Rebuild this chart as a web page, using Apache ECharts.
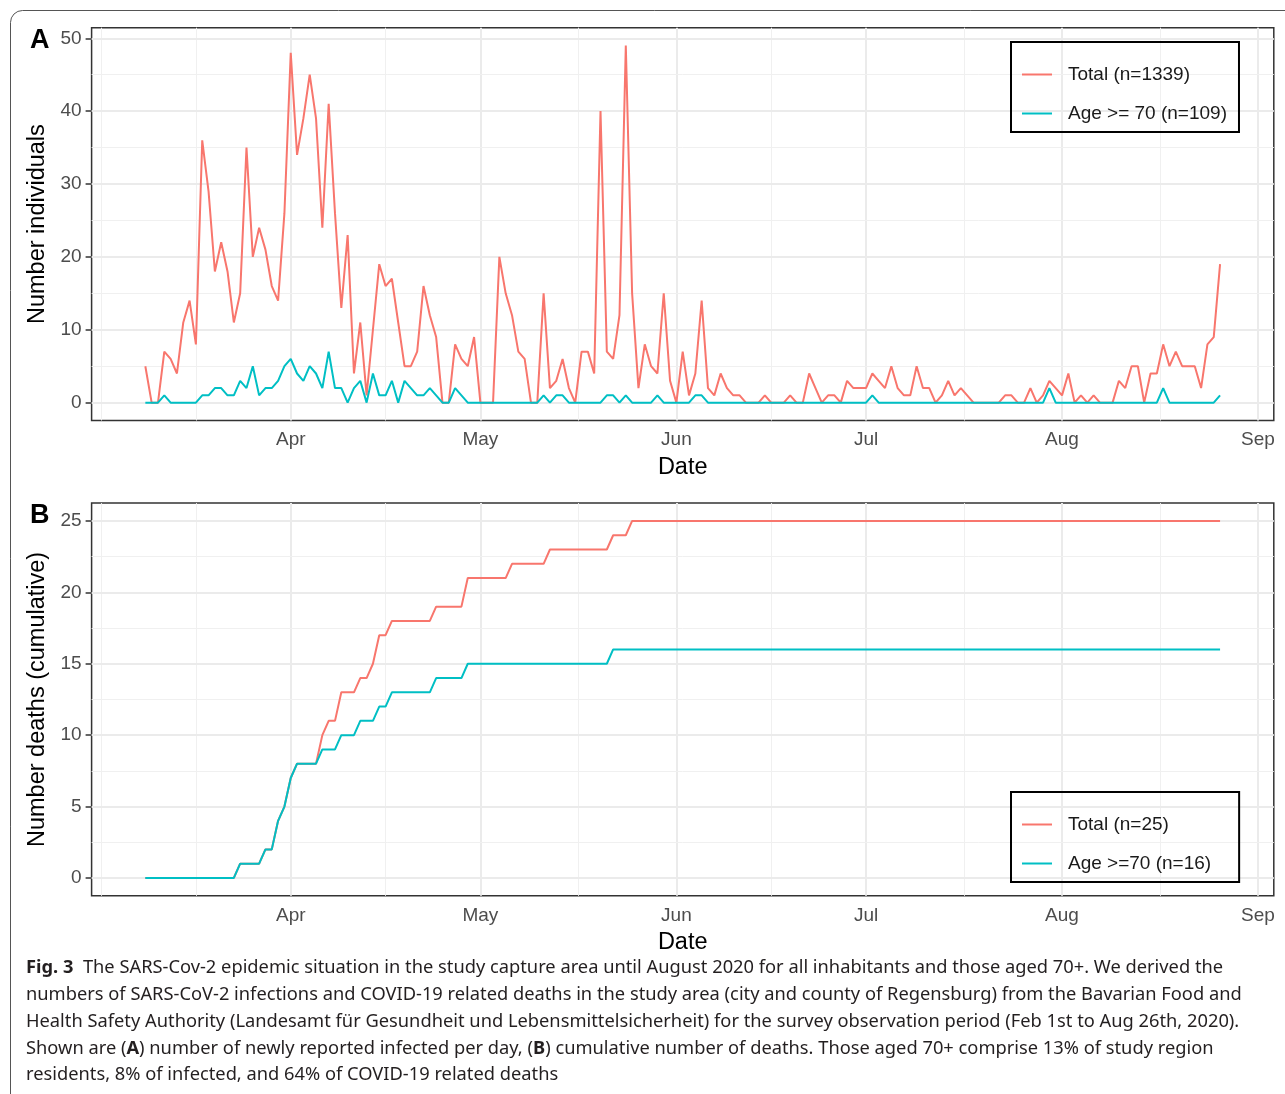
<!DOCTYPE html>
<html>
<head>
<meta charset="utf-8">
<script src="https://cdn.jsdelivr.net/npm/echarts@6/dist/echarts.min.js"></script>
<style>
html, body { margin: 0; padding: 0; background: #fff; }
#chart { width: 1285px; height: 1094px; }
</style>
</head>
<body>
<div id="chart"></div>
<script>
// daily values, first day = startDate
var startDate = [2020, 2, 9];

// A: newly reported infected per day
var newTotal = [
    // Mar 9 - 31
    5, 0, 0, 7, 6, 4, 11, 14, 8, 36, 29, 18, 22, 18, 11, 15, 35, 20, 24, 21, 16, 14, 26,
    // Apr
    48, 34, 39, 45, 39, 24, 41, 26, 13, 23, 4, 11, 1, 10, 19, 16, 17, 11, 5, 5, 7, 16, 12, 9, 0, 0, 8, 6, 5, 9,
    // May
    0, 0, 0, 20, 15, 12, 7, 6, 0, 0, 15, 2, 3, 6, 2, 0, 7, 7, 4, 40, 7, 6, 12, 49, 15, 2, 8, 5, 4, 15, 3,
    // Jun
    0, 7, 1, 4, 14, 2, 1, 4, 2, 1, 1, 0, 0, 0, 1, 0, 0, 0, 1, 0, 0, 4, 2, 0, 1, 1, 0, 3, 2, 2,
    // Jul
    2, 4, 3, 2, 5, 2, 1, 1, 5, 2, 2, 0, 1, 3, 1, 2, 1, 0, 0, 0, 0, 0, 1, 1, 0, 0, 2, 0, 1, 3, 2,
    // Aug 1 - 26
    1, 4, 0, 1, 0, 1, 0, 0, 0, 3, 2, 5, 5, 0, 4, 4, 8, 5, 7, 5, 5, 5, 2, 8, 9, 19
];
var newAge70 = [
    0, 0, 0, 1, 0, 0, 0, 0, 0, 1, 1, 2, 2, 1, 1, 3, 2, 5, 1, 2, 2, 3, 5,
    6, 4, 3, 5, 4, 2, 7, 2, 2, 0, 2, 3, 0, 4, 1, 1, 3, 0, 3, 2, 1, 1, 2, 1, 0, 0, 2, 1, 0, 0,
    0, 0, 0, 0, 0, 0, 0, 0, 0, 0, 1, 0, 1, 1, 0, 0, 0, 0, 0, 0, 1, 1, 0, 1, 0, 0, 0, 0, 1, 0, 0,
    0, 0, 0, 1, 1, 0, 0, 0, 0, 0, 0, 0, 0, 0, 0, 0, 0, 0, 0, 0, 0, 0, 0, 0, 0, 0, 0, 0, 0, 0,
    0, 1, 0, 0, 0, 0, 0, 0, 0, 0, 0, 0, 0, 0, 0, 0, 0, 0, 0, 0, 0, 0, 0, 0, 0, 0, 0, 0, 0, 2, 0,
    0, 0, 0, 0, 0, 0, 0, 0, 0, 0, 0, 0, 0, 0, 0, 0, 2, 0, 0, 0, 0, 0, 0, 0, 0, 1
];

// B: cumulative number of deaths
var deathsTotal = [
    0, 0, 0, 0, 0, 0, 0, 0, 0, 0, 0, 0, 0, 0, 0, 1, 1, 1, 1, 2, 2, 4, 5,
    7, 8, 8, 8, 8, 10, 11, 11, 13, 13, 13, 14, 14, 15, 17, 17, 18, 18, 18, 18, 18, 18, 18, 19, 19, 19, 19, 19, 21, 21,
    21, 21, 21, 21, 21, 22, 22, 22, 22, 22, 22, 23, 23, 23, 23, 23, 23, 23, 23, 23, 23, 24, 24, 24, 25, 25, 25, 25, 25, 25, 25,
    25, 25, 25, 25, 25, 25, 25, 25, 25, 25, 25, 25, 25, 25, 25, 25, 25, 25, 25, 25, 25, 25, 25, 25, 25, 25, 25, 25, 25, 25,
    25, 25, 25, 25, 25, 25, 25, 25, 25, 25, 25, 25, 25, 25, 25, 25, 25, 25, 25, 25, 25, 25, 25, 25, 25, 25, 25, 25, 25, 25, 25,
    25, 25, 25, 25, 25, 25, 25, 25, 25, 25, 25, 25, 25, 25, 25, 25, 25, 25, 25, 25, 25, 25, 25, 25, 25, 25
];
var deathsAge70 = [
    0, 0, 0, 0, 0, 0, 0, 0, 0, 0, 0, 0, 0, 0, 0, 1, 1, 1, 1, 2, 2, 4, 5,
    7, 8, 8, 8, 8, 9, 9, 9, 10, 10, 10, 11, 11, 11, 12, 12, 13, 13, 13, 13, 13, 13, 13, 14, 14, 14, 14, 14, 15, 15,
    15, 15, 15, 15, 15, 15, 15, 15, 15, 15, 15, 15, 15, 15, 15, 15, 15, 15, 15, 15, 15, 16, 16, 16, 16, 16, 16, 16, 16, 16, 16,
    16, 16, 16, 16, 16, 16, 16, 16, 16, 16, 16, 16, 16, 16, 16, 16, 16, 16, 16, 16, 16, 16, 16, 16, 16, 16, 16, 16, 16, 16,
    16, 16, 16, 16, 16, 16, 16, 16, 16, 16, 16, 16, 16, 16, 16, 16, 16, 16, 16, 16, 16, 16, 16, 16, 16, 16, 16, 16, 16, 16, 16,
    16, 16, 16, 16, 16, 16, 16, 16, 16, 16, 16, 16, 16, 16, 16, 16, 16, 16, 16, 16, 16, 16, 16, 16, 16, 16
];

var seriesNamesA = ['Total (n=1339)', 'Age >= 70 (n=109)'];
var seriesNamesB = ['Total (n=25)', 'Age >=70 (n=16)'];

// x axis: month ticks and ggplot style minor grid
var monthTicks = ['2020-04-01', '2020-05-01', '2020-06-01', '2020-07-01', '2020-08-01', '2020-09-01'];
var monthLabels = ['Apr', 'May', 'Jun', 'Jul', 'Aug', 'Sep'];
var minorXGrid = ['2020-03-02', '2020-03-17', '2020-04-16', '2020-05-16 12', '2020-06-16', '2020-07-16 12', '2020-08-16 12'];
var xRange = ['2020-02-29 12', '2020-09-03 12'];

var yTicksA = [0, 10, 20, 30, 40, 50];
var yMinorA = [5, 15, 25, 35, 45];
var yRangeA = [-2.45, 51.45];
var yTicksB = [0, 5, 10, 15, 20, 25];
var yMinorB = [2.5, 7.5, 12.5, 17.5, 22.5];
var yRangeB = [-1.25, 26.25];

var captionLines = [
    '{b|Fig. 3}  The SARS-Cov-2 epidemic situation in the study capture area until August 2020 for all inhabitants and those aged 70+. We derived the',
    'numbers of SARS-CoV-2 infections and COVID-19 related deaths in the study area (city and county of Regensburg) from the Bavarian Food and',
    'Health Safety Authority (Landesamt für Gesundheit und Lebensmittelsicherheit) for the survey observation period (Feb 1st to Aug 26th, 2020).',
    'Shown are ({b|A}) number of newly reported infected per day, ({b|B}) cumulative number of deaths. Those aged 70+ comprise 13% of study region',
    'residents, 8% of infected, and 64% of COVID-19 related deaths'
];

var RED = '#F8766D', CYAN = '#00BFC4';
var FONT = '"Liberation Sans", Arial, sans-serif';
var CAPTION_FONT = '"Noto Sans", "Open Sans", sans-serif';

function ts(s) {
    var p = s.split(/[- ]/);
    return new Date(+p[0], +p[1] - 1, +p[2], +(p[3] || 0)).getTime();
}

function toPoints(values) {
    var out = [];
    for (var i = 0; i < values.length; i++) {
        out.push([new Date(startDate[0], startDate[1], startDate[2] + i).getTime(), values[i]]);
    }
    return out;
}

// gridlines drawn as markLines under the data
function gridLines(yMajor, yMinor) {
    var lines = [];
    monthTicks.forEach(function (d) {
        lines.push({xAxis: ts(d), lineStyle: {color: '#ebebeb', width: 2}});
    });
    minorXGrid.forEach(function (d) {
        lines.push({xAxis: ts(d), lineStyle: {color: '#f0f0f0', width: 1}});
    });
    yMajor.forEach(function (v) {
        lines.push({yAxis: v, lineStyle: {color: '#ebebeb', width: 2}});
    });
    yMinor.forEach(function (v) {
        lines.push({yAxis: v, lineStyle: {color: '#f0f0f0', width: 1}});
    });
    return {
        silent: true,
        z: 1,
        symbol: ['none', 'none'],
        label: {show: false},
        emphasis: {disabled: true},
        lineStyle: {type: 'solid'},
        animation: false,
        data: lines
    };
}

function xAxisFor(gridIndex) {
    var tickValues = monthTicks.map(ts);
    return {
        type: 'value',
        gridIndex: gridIndex,
        min: ts(xRange[0]),
        max: ts(xRange[1]),
        scale: true,
        name: 'Date',
        nameLocation: 'middle',
        nameGap: 35,
        nameTextStyle: {fontSize: 23.5, color: '#000', fontFamily: FONT},
        axisLine: {show: false},
        splitLine: {show: false},
        axisTick: {show: true, customValues: tickValues, length: 6, lineStyle: {color: '#333', width: 1.5}},
        axisLabel: {
            customValues: tickValues,
            margin: 10,
            fontSize: 19,
            color: '#4d4d4d',
            fontFamily: FONT,
            formatter: function (value) {
                var i = tickValues.indexOf(value);
                return i >= 0 ? monthLabels[i] : '';
            }
        }
    };
}

function yAxisFor(gridIndex, range, ticks, title) {
    return {
        type: 'value',
        gridIndex: gridIndex,
        min: range[0],
        max: range[1],
        name: title,
        nameLocation: 'middle',
        nameGap: 41,
        nameTextStyle: {fontSize: 23.5, color: '#000', fontFamily: FONT},
        axisLine: {show: false},
        splitLine: {show: false},
        axisTick: {show: true, customValues: ticks, length: 6, lineStyle: {color: '#333', width: 1.5}},
        axisLabel: {customValues: ticks, margin: 10, fontSize: 19, color: '#4d4d4d', fontFamily: FONT}
    };
}

function legendFor(top, names, padRight) {
    return {
        data: names,
        orient: 'vertical',
        left: 1011,
        top: top,
        borderColor: '#000',
        borderWidth: 2,
        borderRadius: 0,
        padding: [23, padRight, 9, 11],
        itemGap: 20,
        itemWidth: 30,
        itemHeight: 2,
        icon: 'rect',
        selectedMode: false,
        textStyle: {fontSize: 19, color: '#1a1a1a', fontFamily: FONT, padding: [0, 0, 0, 11]}
    };
}

function lineSeries(name, values, color, xi, yi, marks) {
    var s = {
        name: name,
        type: 'line',
        xAxisIndex: xi,
        yAxisIndex: yi,
        data: toPoints(values),
        symbol: 'none',
        showSymbol: false,
        lineStyle: {color: color, width: 2},
        itemStyle: {color: color},
        emphasis: {disabled: true},
        animation: false,
        z: 3
    };
    if (marks) s.markLine = marks;
    return s;
}

var caption = captionLines.map(function (line, i) {
    return {
        type: 'text',
        left: 26,
        top: 959 + i * 26.8,
        style: {
            text: line,
            fontSize: 18.3,
            fontFamily: CAPTION_FONT,
            fill: '#231f20',
            rich: {
                b: {fontSize: 18.3, fontWeight: 'bold', fontFamily: CAPTION_FONT, fill: '#231f20'}
            }
        }
    };
});

var chart = echarts.init(document.getElementById('chart'), null, {renderer: 'canvas'});
chart.setOption({
    backgroundColor: '#fff',
    animation: false,
    grid: [
        {left: 91.6, top: 27.7, width: 1182.2, height: 392.8, show: true, borderColor: '#333', borderWidth: 1.5, outerBoundsMode: 'none'},
        {left: 91.6, top: 503.1, width: 1182.2, height: 392.7, show: true, borderColor: '#333', borderWidth: 1.5, outerBoundsMode: 'none'}
    ],
    xAxis: [xAxisFor(0), xAxisFor(1)],
    yAxis: [
        yAxisFor(0, yRangeA, yTicksA, 'Number individuals'),
        yAxisFor(1, yRangeB, yTicksB, 'Number deaths (cumulative)')
    ],
    legend: [legendFor(42, seriesNamesA, 12), legendFor(792, seriesNamesB, 28)],
    series: [
        lineSeries(seriesNamesA[0], newTotal, RED, 0, 0, gridLines(yTicksA, yMinorA)),
        lineSeries(seriesNamesA[1], newAge70, CYAN, 0, 0),
        lineSeries(seriesNamesB[0], deathsTotal, RED, 1, 1, gridLines(yTicksB, yMinorB)),
        lineSeries(seriesNamesB[1], deathsAge70, CYAN, 1, 1)
    ],
    graphic: [
        {
            type: 'rect',
            shape: {x: 10.5, y: 10.5, width: 1320, height: 1140, r: 12},
            style: {fill: 'none', stroke: '#555', lineWidth: 1}
        },
        {type: 'text', left: 30, top: 27, style: {text: 'A', fontSize: 27, fontWeight: 'bold', fontFamily: FONT, fill: '#000'}},
        {type: 'text', left: 30, top: 502, style: {text: 'B', fontSize: 27, fontWeight: 'bold', fontFamily: FONT, fill: '#000'}}
    ].concat(caption)
});
</script>
</body>
</html>
